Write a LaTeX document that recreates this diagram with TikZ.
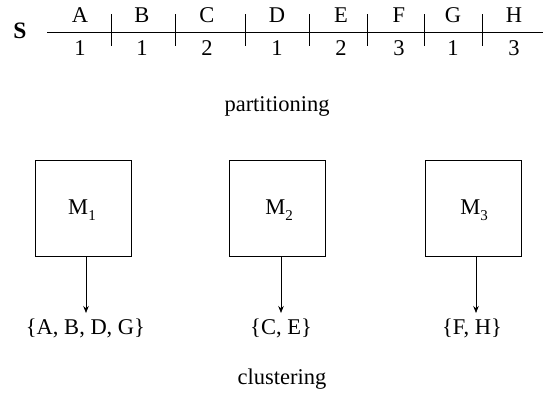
\documentclass[tikz,border=0pt]{standalone}
\usepackage{fontspec}
\setmainfont{Liberation Serif}
\usetikzlibrary{arrows.meta}
\newcommand{\msub}[1]{\raisebox{-0.28em}{\fontsize{15}{18}\selectfont #1}}
\begin{document}
\begin{tikzpicture}[x=1pt,y=-1pt,
  txt/.style={inner sep=0pt,anchor=base,font=\fontsize{22.5}{26}\selectfont},
  mbox/.style={draw,line width=0.9pt,minimum width=96pt,minimum height=96pt,inner sep=0pt},
  arr/.style={line width=0.7pt,-{Stealth[length=7pt,width=5.5pt]}},
  rule/.style={line width=0.8pt}]
\useasboundingbox (0,0) rectangle (543,394);
% sequence line
\node[txt,font=\fontsize{23.5}{28}\selectfont\bfseries] (S) at (20,38) {S};
\coordinate (l0) at (47,32);
\coordinate (l1) at (543,32);
\draw[rule] (l0) -- (l1);
\foreach \x/\n in {111/t1,175/t2,245/t3,309/t4,367/t5,424/t6,482/t7}{
  \coordinate (\n a) at (\x,14);
  \coordinate (\n b) at (\x,46);
  \draw[rule] (\n a) -- (\n b);
}
\foreach \x/\l/\d/\n in {80/A/1/a,142/B/1/b,207/C/2/c,277/D/1/d,341/E/2/e,399/F/3/f,453/G/1/g,514/H/3/h}{
  \node[txt] (L\n) at (\x,22) {\l};
  \node[txt] (N\n) at (\x,55) {\d};
}
\node[txt] (part) at (277,111) {partitioning};
% boxes
\node[mbox] (M1) at (83,208) {};
\node[mbox] (M2) at (277,208) {};
\node[mbox] (M3) at (473,208) {};
\node[txt] (m1t) at (82,214) {M\msub{1}};
\node[txt] (m2t) at (279,214) {M\msub{2}};
\node[txt] (m3t) at (474,214) {M\msub{3}};
% results
\node[txt] (r1) at (85.5,334) {\{A, B, D, G\}};
\node[txt] (r2) at (281,334) {\{C, E\}};
\node[txt] (r3) at (472,334) {\{F, H\}};
\coordinate (e1) at (86,313);
\coordinate (e2) at (281,313);
\coordinate (e3) at (476,313);
\draw[arr] (M1.south -| e1) -- (e1);
\draw[arr] (M2.south -| e2) -- (e2);
\draw[arr] (M3.south -| e3) -- (e3);
\node[txt] (clus) at (282,384) {clustering};
\end{tikzpicture}
\end{document}
